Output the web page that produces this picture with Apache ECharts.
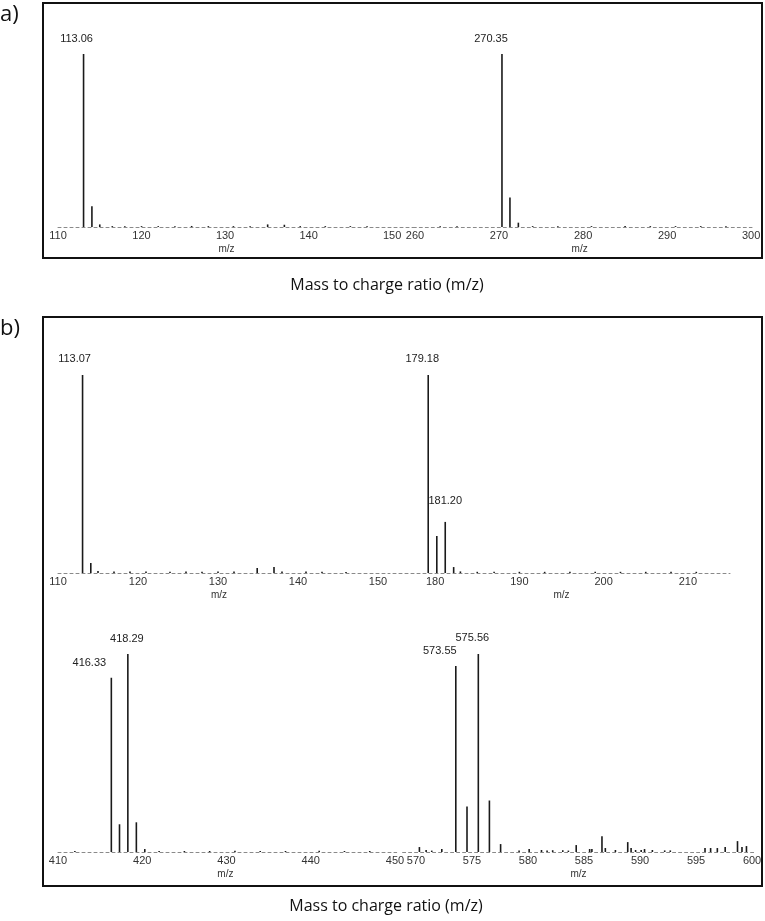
<!DOCTYPE html>
<html>
<head>
<meta charset="utf-8">
<script src="https://cdn.jsdelivr.net/npm/echarts@6/dist/echarts.min.js"></script>
<style>
  html, body { margin: 0; padding: 0; background: #fff; }
  #chart { width: 765px; height: 921px; }
</style>
</head>
<body>
<div id="chart"></div>
<script>
// peaks: [m/z, relative intensity %]
const peaksA1 = [[113.06, 100], [114.06, 12], [115.0, 1.5], [116.5, 0.5], [118, 0.5], [120, 0.5], [122, 0.5], [124, 0.5],
  [126, 0.6], [128, 0.5], [131, 0.5], [133, 0.5], [135.1, 1.5], [137.1, 1.3], [139, 0.5], [142, 0.5], [145, 0.5], [147, 0.5]];
const peaksA2 = [[263, 0.5], [265, 0.5], [270.35, 100], [271.3, 17], [272.3, 2.5], [274, 0.5], [277, 0.5], [281, 0.5],
  [285, 0.6], [288, 0.5], [291, 0.5], [294, 0.5], [297, 0.5]];
const peaksB1 = [[113.07, 100], [114.1, 5], [115, 1], [117, 0.7], [119, 0.8], [121, 0.7], [124, 0.6], [126, 0.8], [128, 0.6],
  [130, 0.7], [132, 0.8], [134.9, 2.5], [137, 3], [138, 0.8], [141, 0.8], [143, 0.6], [146, 0.5]];
const peaksB2 = [[179.18, 100], [180.2, 18.7], [181.20, 25.8], [182.2, 3], [183, 0.8], [185, 0.6], [187, 0.6], [190, 0.6],
  [193, 0.6], [196, 0.6], [199, 0.6], [202, 0.6], [205, 0.6], [208, 0.6], [211, 0.6]];
const peaksB3 = [[412, 0.5], [416.33, 88], [417.3, 14], [418.29, 100], [419.3, 15], [420.3, 1.5], [422, 0.5], [425, 0.5],
  [428, 0.5], [431, 0.6], [434, 0.5], [437, 0.5], [441, 0.6], [444, 0.5], [447, 0.5]];
const peaksB4 = [[570.3, 2.5], [570.9, 1], [571.4, 0.7], [572.3, 1.5], [573.55, 94], [574.55, 23], [575.56, 100], [576.55, 26],
  [577.55, 4], [579.2, 0.7], [580.1, 1.5], [581.2, 1], [581.7, 0.7], [582.2, 0.9], [583.1, 0.9], [583.6, 0.7], [584.3, 3.5],
  [585.5, 1.5], [585.7, 1.5], [586.6, 8], [586.9, 2], [587.8, 1], [588.9, 5], [589.2, 2], [589.6, 1], [590.1, 1], [590.4, 1.5],
  [591.1, 1], [592.2, 0.8], [592.7, 0.8], [595.8, 2], [596.3, 2], [596.9, 2], [597.6, 2.5], [598.7, 5.5], [599.1, 2.5], [599.5, 3]];

// tick labels per sub-axis
const ticksA1 = [110, 120, 130, 140, 150];
const ticksA2 = [260, 270, 280, 290, 300];
const ticksB1 = [110, 120, 130, 140, 150];
const ticksB2 = [180, 190, 200, 210];
const ticksB3 = [410, 420, 430, 440, 450];
const ticksB4 = [570, 575, 580, 585, 590, 595, 600];

// which peaks get a text label
const labelled = [113.06, 270.35, 113.07, 179.18, 181.20, 416.33, 418.29, 573.55, 575.56];

// label nudges (px), keyed by m/z
const labelShift = {
  113.06: [-7, -5], 270.35: [-11, -5], 113.07: [-8, -6], 179.18: [-6, -6], 181.2: [0, -10],
  416.33: [-22, -4], 418.29: [-1, -5], 573.55: [-16, -4], 575.56: [-6, -6]
};

const panels = [
  { peaks: peaksA1, ticks: ticksA1, min: 110, max: 152.5, left: 58, width: 355, top: 54, height: 173, namePad: 18 },
  { peaks: peaksA2, ticks: ticksA2, min: 259.8, max: 300.1, left: 413.3, width: 338.7, top: 54, height: 173, namePad: 6 },
  { peaks: peaksB1, ticks: ticksB1, min: 110, max: 151.5, left: 58, width: 332, top: 375, height: 198, namePad: 10 },
  { peaks: peaksB2, ticks: ticksB2, min: 175, max: 215, left: 393, width: 337, top: 375, height: 198, namePad: 0 },
  { peaks: peaksB3, ticks: ticksB3, min: 410, max: 450.2, left: 58, width: 338.7, top: 654, height: 198, namePad: 4 },
  { peaks: peaksB4, ticks: ticksB4, min: 568.8, max: 600.2, left: 402.6, width: 351.7, top: 654, height: 198, namePad: 0 }
];

const grid = [], xAxis = [], yAxis = [], series = [];

panels.forEach((p, i) => {
  grid.push({ left: p.left, top: p.top, width: p.width, height: p.height });
  xAxis.push({
    type: 'value',
    gridIndex: i,
    min: p.min,
    max: p.max,
    name: 'm/z',
    nameLocation: 'middle',
    nameGap: 17,
    nameTextStyle: { fontFamily: 'Liberation Sans', fontSize: 10, color: '#333', padding: [0, p.namePad, 0, 0] },
    axisLine: { lineStyle: { color: '#8a8a8a', width: 1, type: [3, 3] } },
    axisTick: { show: false },
    splitLine: { show: false },
    axisLabel: {
      customValues: p.ticks,
      margin: 3,
      fontFamily: 'Liberation Sans',
      fontSize: 11,
      color: '#333'
    }
  });
  yAxis.push({ type: 'value', gridIndex: i, min: 0, max: 100, show: false });
  series.push({
    type: 'bar',
    xAxisIndex: i,
    yAxisIndex: i,
    barWidth: 1.6,
    itemStyle: { color: '#1a1a1a' },
    emphasis: { disabled: true },
    data: p.peaks.map(([mz, inten]) => {
      if (!labelled.includes(mz)) return [mz, inten];
      return {
        value: [mz, inten],
        label: {
          show: true,
          position: 'top',
          offset: labelShift[mz] || [0, 0],
          formatter: (d) => d.value[0].toFixed(2),
          fontFamily: 'Liberation Sans',
          fontSize: 11,
          color: '#222'
        }
      };
    })
  });
});

const chart = echarts.init(document.getElementById('chart'), null, { renderer: 'canvas' });
chart.setOption({
  animation: false,
  backgroundColor: '#fff',
  grid, xAxis, yAxis, series,
  graphic: [
    { type: 'rect', shape: { x: 43, y: 3, width: 719, height: 255 }, style: { fill: 'none', stroke: '#111', lineWidth: 2 } },
    { type: 'rect', shape: { x: 43, y: 317, width: 719, height: 569 }, style: { fill: 'none', stroke: '#111', lineWidth: 2 } },
    { type: 'text', left: 0, top: 4, style: { text: 'a)', font: '22px "Open Sans"', fill: '#111' } },
    { type: 'text', left: 0, top: 318, style: { text: 'b)', font: '22px "Open Sans"', fill: '#111' } },
    { type: 'text', x: 387, y: 285, style: { text: 'Mass to charge ratio (m/z)', font: '16px "Open Sans"', fill: '#111', textAlign: 'center', textVerticalAlign: 'middle' } },
    { type: 'text', x: 386, y: 906, style: { text: 'Mass to charge ratio (m/z)', font: '16px "Open Sans"', fill: '#111', textAlign: 'center', textVerticalAlign: 'middle' } }
  ]
});
</script>
</body>
</html>
